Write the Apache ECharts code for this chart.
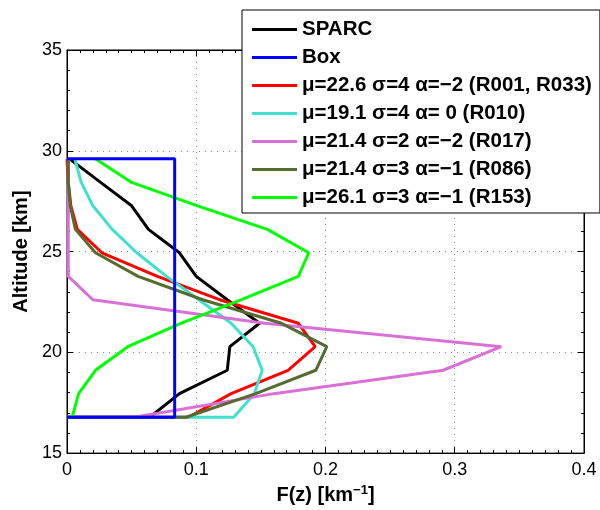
<!DOCTYPE html>
<html>
<head>
<meta charset="utf-8">
<script src="https://cdn.jsdelivr.net/npm/echarts@6/dist/echarts.min.js"></script>
<style>
  html, body { margin: 0; padding: 0; background: #fff; }
  #chart { width: 600px; height: 510px; }
</style>
</head>
<body>
<div id="chart"></div>
<script>
// altitude levels [km], bottom to top
const altitudes = [16.78, 17.95, 19.11, 20.28, 21.44, 22.61, 23.77, 24.94, 26.10, 27.27, 28.43, 29.60]

// F(z) [km^-1] at each level
const sparc = [0.064, 0.087, 0.124, 0.126, 0.149, 0.124, 0.100, 0.087, 0.063, 0.050, 0.026, 0.002]
const boxValue = 0.0833
const r001 = [0.094, 0.127, 0.171, 0.192, 0.179, 0.118, 0.070, 0.027, 0.008, 0.003, 0.001, 0]
const r010 = [0.129, 0.145, 0.151, 0.144, 0.127, 0.102, 0.077, 0.054, 0.035, 0.020, 0.011, 0.006]
const r017 = [0.052, 0.160, 0.291, 0.336, 0.153, 0.020, 0.001, 0.001, 0.001, 0.001, 0.001, 0.001]
const r086 = [0.092, 0.146, 0.1925, 0.201, 0.166, 0.105, 0.055, 0.022, 0.0065, 0.0025, 0.001, 0.001]
const r153 = [0.004, 0.009, 0.022, 0.047, 0.088, 0.135, 0.179, 0.187, 0.155, 0.101, 0.050, 0.022]

const names = [
    'SPARC',
    'Box',
    'μ=22.6 σ=4 α=−2 (R001, R033)',
    'μ=19.1 σ=4 α= 0 (R010)',
    'μ=21.4 σ=2 α=−2 (R017)',
    'μ=21.4 σ=3 α=−1 (R086)',
    'μ=26.1 σ=3 α=−1 (R153)'
]
const xTicks = [0, 0.1, 0.2, 0.3, 0.4]
const yTicks = [15, 20, 25, 30, 35]

const font = 'Liberation Sans'

function profile(vals){
    // each profile starts from zero at the bottom level
    let pts = [[0, altitudes[0]]]
    vals.forEach((v, i) => pts.push([v, altitudes[i]]))
    return pts
}

function lineSeries(name, color, data, z){
    return {
        name: name,
        type: 'line',
        data: data,
        color: color,
        symbol: 'none',
        z: z || 2,
        lineStyle: { width: 3, color: color },
        animation: false
    }
}

const altBottom = altitudes[0]
const altTop = altitudes[altitudes.length - 1]
const boxData = [[0, altTop], [boxValue, altTop], [boxValue, altBottom], [0, altBottom]]

const chart = echarts.init(document.getElementById('chart'), null, { width: 600, height: 510 })

let tickCommon = {
    axisTick: { show: true, inside: true, length: 6, lineStyle: { color: '#000' } },
    axisLine: { show: true, onZero: false, lineStyle: { color: '#000', width: 1 } }
}

let option = {
    backgroundColor: '#fff',
    animation: false,
    textStyle: { fontFamily: font },
    grid: {
        left: 67, right: 16, top: 50, bottom: 55,
        show: true, borderColor: '#000', borderWidth: 1
    },
    legend: {
        data: names,
        orient: 'vertical',
        left: 242,
        top: 10,
        padding: [9, 8, 5, 10],
        itemWidth: 45,
        itemHeight: 3,
        itemGap: 7,
        icon: 'rect',
        backgroundColor: '#fff',
        borderColor: '#000',
        borderWidth: 1,
        z: 10,
        textStyle: { fontFamily: font, fontSize: 20.5, fontWeight: 'bold', color: '#000', lineHeight: 20 }
    },
    xAxis: [
        Object.assign({
            type: 'value',
            min: xTicks[0],
            max: xTicks[xTicks.length - 1],
            interval: 0.1,
            position: 'bottom',
            name: '{a|F(z) [km}{b|−1}{a|]}',
            nameLocation: 'middle',
            nameGap: 28,
            nameTextStyle: {
                rich: {
                    a: { fontFamily: font, fontSize: 20, fontWeight: 'bold', color: '#000' },
                    b: { fontFamily: font, fontSize: 13, fontWeight: 'bold', color: '#000', verticalAlign: 'top', padding: [0, 0, 9, 0] }
                }
            },
            axisLabel: { fontFamily: font, fontSize: 18, color: '#000', margin: 8 },
            splitLine: { show: true, lineStyle: { color: '#888', type: [1, 5], width: 1 } },
            minorTick: { show: true, splitNumber: 10, length: 3, lineStyle: { color: '#000' } }
        }, tickCommon),
        Object.assign({
            type: 'value',
            min: xTicks[0],
            max: xTicks[xTicks.length - 1],
            interval: 0.1,
            position: 'top',
            axisLabel: { show: false },
            splitLine: { show: false },
            minorTick: { show: true, splitNumber: 10, length: 3, lineStyle: { color: '#000' } }
        }, tickCommon)
    ],
    yAxis: [
        Object.assign({
            type: 'value',
            min: yTicks[0],
            max: yTicks[yTicks.length - 1],
            interval: 5,
            position: 'left',
            name: 'Altitude [km]',
            nameLocation: 'middle',
            nameGap: 35,
            nameTextStyle: { fontFamily: font, fontSize: 20, fontWeight: 'bold', color: '#000' },
            axisLabel: { fontFamily: font, fontSize: 18, color: '#000', margin: 5 },
            splitLine: { show: true, lineStyle: { color: '#888', type: [1, 5], width: 1 } },
            minorTick: { show: true, splitNumber: 5, length: 3, lineStyle: { color: '#000' } }
        }, tickCommon),
        Object.assign({
            type: 'value',
            min: yTicks[0],
            max: yTicks[yTicks.length - 1],
            interval: 5,
            position: 'right',
            axisLabel: { show: false },
            splitLine: { show: false },
            minorTick: { show: true, splitNumber: 5, length: 3, lineStyle: { color: '#000' } }
        }, tickCommon)
    ],
    series: [
        lineSeries(names[0], '#000000', profile(sparc)),
        lineSeries(names[1], '#0000ff', boxData, 5),
        lineSeries(names[2], '#ff0000', profile(r001)),
        lineSeries(names[3], '#40e0d0', profile(r010)),
        lineSeries(names[4], '#da70d6', profile(r017)),
        lineSeries(names[5], '#556b2f', profile(r086)),
        lineSeries(names[6], '#00ff00', profile(r153))
    ]
}

chart.setOption(option)
</script>
</body>
</html>
